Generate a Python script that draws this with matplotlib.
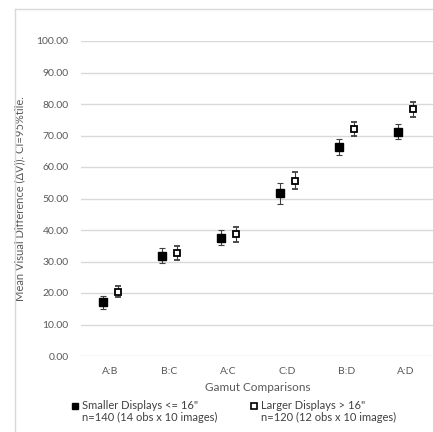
import matplotlib.pyplot as plt
from matplotlib.lines import Line2D
import numpy as np

# data
categories = ['A:B', 'B:C', 'A:C', 'C:D', 'B:D', 'A:D']
small_mean = [17.1, 31.8, 37.6, 51.6, 66.4, 71.2]
small_err = [2.1, 2.4, 2.4, 3.3, 2.6, 2.4]
large_mean = [20.4, 32.6, 38.6, 55.7, 72.2, 78.3]
large_err = [1.8, 2.2, 2.3, 2.6, 2.2, 2.3]
yticks = [0, 10, 20, 30, 40, 50, 60, 70, 80, 90, 100]
series_names = ['Smaller Displays <= 16"', 'Larger Displays > 16"']
series_notes = ['n=140 (14 obs x 10 images)', 'n=120 (12 obs x 10 images)']

plt.rcParams['font.family'] = ['Lato', 'DejaVu Sans']
gray = '#595959'

fig = plt.figure(figsize=(4.33, 4.32), dpi=100)
ax = fig.add_axes([81 / 433, 1 - 356 / 432, 354 / 433, 315 / 432])

x = np.arange(len(categories))
off = 0.12
ax.errorbar(x - off, small_mean, yerr=small_err, fmt='s', color='black',
            ms=5.5, ecolor='#404040', elinewidth=0.8, capsize=2.5, capthick=0.8, zorder=3)
ax.errorbar(x + off, large_mean, yerr=large_err, fmt='s', mfc='white', mec='black',
            mew=1.3, ms=5, ecolor='#404040', elinewidth=0.8, capsize=2.5, capthick=0.8, zorder=3)

ax.set_xlim(-0.5, len(categories) - 0.5)
ax.set_ylim(0, 100)
ax.set_yticks(yticks)
ax.set_yticklabels([f'{v:.2f}' for v in yticks])
ax.set_xticks(x)
ax.set_xticklabels(categories)
ax.tick_params(length=0, colors=gray, labelsize=7.5)
ax.tick_params(axis='y', pad=9)
ax.tick_params(axis='x', pad=8)
ax.grid(axis='y', color='#d9d9d9', linewidth=1)
ax.set_axisbelow(True)
for s in ax.spines.values():
    s.set_visible(False)

ax.set_xlabel('Gamut Comparisons', fontsize=8.5, color=gray, labelpad=4)
ax.set_ylabel('Mean Visual Difference (ΔV)). CI=95%tile.', fontsize=8, color=gray, labelpad=8)

# legend: marker + name on first row, sample note on second row
h_small = Line2D([], [], ls='none', marker='s', color='black', ms=4.5)
h_large = Line2D([], [], ls='none', marker='s', mfc='white', mec='black', mew=1.2, ms=4.5)
blank = Line2D([], [], ls='none')
leg = fig.legend([h_small, blank, h_large, blank],
                 [series_names[0], series_notes[0], series_names[1], series_notes[1]],
                 loc='upper left', bbox_to_anchor=(68 / 433, 1 - 396 / 432), ncol=2,
                 frameon=False, fontsize=8, handlelength=0.5, handletextpad=0.4,
                 columnspacing=3.0, labelspacing=0.05, labelcolor='#404040',
                 borderaxespad=0, numpoints=1)

# chart frame
fig.add_artist(Line2D([15 / 433, 15 / 433], [0, 1 - 9 / 432], color='#d9d9d9', lw=1))
fig.add_artist(Line2D([15 / 433, 1], [1 - 9 / 432, 1 - 9 / 432], color='#d9d9d9', lw=1))

fig.savefig('out.png', dpi=100)
